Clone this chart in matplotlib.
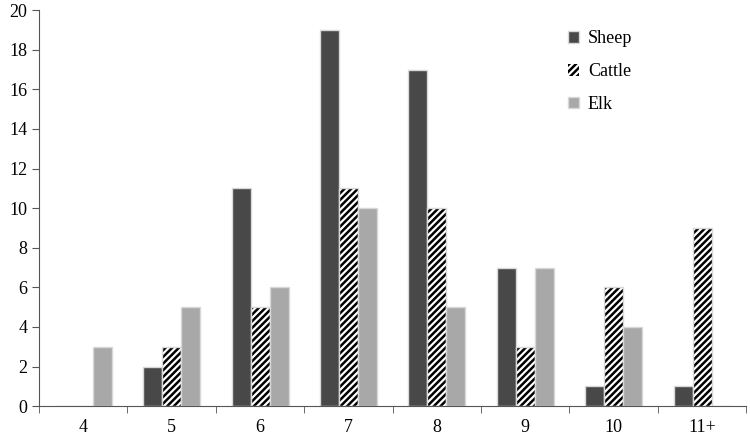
import matplotlib
matplotlib.use("Agg")
from matplotlib import pyplot as plt
import numpy as np

plt.rcParams['font.family'] = ['Liberation Serif', 'DejaVu Serif']
plt.rcParams['hatch.linewidth'] = 1.8

categories = ["4", "5", "6", "7", "8", "9", "10", "11+"]
sheep = [0, 2, 11, 19, 17, 7, 1, 1]
cattle = [0, 3, 5, 11, 10, 3, 6, 9]
elk = [3, 5, 6, 10, 5, 7, 4, 0]

x = np.arange(len(categories))
w = 0.215

fig = plt.figure(figsize=(7.5, 4.4), dpi=100)
ax = fig.add_axes([0.052, 0.077, 0.943, 0.9])

ax.bar(x - w, sheep, w, color="#484848", edgecolor="#d8d8d8", linewidth=1, label="Sheep")
ax.bar(x, cattle, w, color="white", edgecolor="black", hatch="/////", linewidth=0, label="Cattle")
ax.bar(x, cattle, w, fill=False, edgecolor="#d8d8d8", linewidth=1)
ax.bar(x + w, elk, w, color="#a8a8a8", edgecolor="#d8d8d8", linewidth=1, label="Elk")

ax.set_xlim(-0.5, len(categories) - 0.5)
ax.set_ylim(0, 20)
ax.set_yticks(range(0, 21, 2))
ax.set_xticks(x)
ax.set_xticklabels(categories)
ax.set_xticks(np.arange(-0.5, len(categories)), minor=True)
ax.tick_params(axis="x", which="major", length=0, pad=9, labelsize=13)
ax.tick_params(axis="x", which="minor", length=5, direction="out", color="#555555")
ax.tick_params(axis="y", length=5, direction="out", color="#555555", labelsize=13)

for s in ["top", "right"]:
    ax.spines[s].set_visible(False)
ax.spines["left"].set_color("#555555")
ax.spines["bottom"].set_color("#555555")

ax.legend(frameon=False, loc="upper left", bbox_to_anchor=(0.725, 0.99),
          fontsize=13, handlelength=0.6, handleheight=0.6, handletextpad=0.5,
          labelspacing=0.88)

plt.savefig("out.png")
